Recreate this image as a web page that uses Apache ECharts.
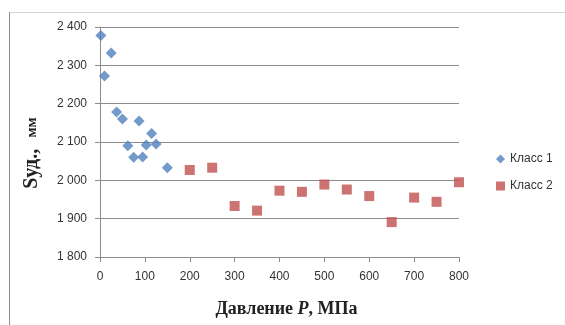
<!DOCTYPE html>
<html><head><meta charset="utf-8">
<script src="https://cdn.jsdelivr.net/npm/echarts@6/dist/echarts.min.js"></script>
<style>html,body{margin:0;padding:0;background:#fff}#c{width:565px;height:325px}</style>
</head><body><div id="c"></div>
<script>
const class1P = [2, 10, 25, 37, 50, 62, 75, 87, 95, 103, 115, 125, 150];
const class1S = [2378, 2272, 2332, 2178, 2160, 2090, 2060, 2155, 2061, 2092, 2122, 2095, 2033];
const class2P = [200, 250, 300, 350, 400, 450, 500, 550, 600, 650, 700, 750, 800];
const class2S = [2027, 2033, 1933, 1921, 1973, 1970, 1989, 1976, 1959, 1891, 1955, 1944, 1995];
const seriesNames = ['Класс 1', 'Класс 2'];
const xTicks = [0, 100, 200, 300, 400, 500, 600, 700, 800];
const yTicks = [1800, 1900, 2000, 2100, 2200, 2300, 2400];

const chart = echarts.init(document.getElementById('c'), null, {renderer: 'canvas'});
const fmt = v => { const s = String(v); return s.length > 3 ? s.slice(0, s.length - 3) + ' ' + s.slice(-3) : s; };
const serif = 'Liberation Serif, Times New Roman, serif';
const sans = 'Liberation Sans, Arial, sans-serif';
chart.setOption({
  animation: false,
  backgroundColor: '#fff',
  graphic: [
    {type: 'line', shape: {x1: 9.5, y1: 12, x2: 9.5, y2: 325}, style: {stroke: '#8c8c8c', lineWidth: 1}},
    {type: 'line', shape: {x1: 9.5, y1: 12.5, x2: 565, y2: 12.5}, style: {stroke: '#d4d4d4', lineWidth: 1}}
  ],
  grid: {left: 100, right: 106, top: 27, bottom: 68, containLabel: false},
  legend: {
    orient: 'vertical', left: 491, top: 147, itemGap: 13, itemWidth: 9, itemHeight: 9,
    textStyle: {fontFamily: sans, fontSize: 12, color: '#333', lineHeight: 14},
    data: [{name: seriesNames[0], icon: 'diamond'}, {name: seriesNames[1], icon: 'rect'}]
  },
  xAxis: {
    type: 'value', min: xTicks[0], max: xTicks[xTicks.length - 1], interval: 100,
    axisLine: {show: true, lineStyle: {color: '#8c8c8c'}},
    axisTick: {show: true, length: 5, lineStyle: {color: '#8c8c8c'}},
    splitLine: {show: false},
    axisLabel: {margin: 14, fontFamily: sans, fontSize: 12, color: '#333'},
    name: '{a|Давление }{b|P}{a|, МПа}', nameLocation: 'middle', nameGap: 43,
    nameTextStyle: {padding: [0, 0, 0, 14], rich: {
      a: {fontFamily: serif, fontWeight: 'bold', fontSize: 18, color: '#222'},
      b: {fontFamily: serif, fontWeight: 'bold', fontStyle: 'italic', fontSize: 18, color: '#222'}
    }}
  },
  yAxis: {
    type: 'value', min: yTicks[0], max: yTicks[yTicks.length - 1], interval: 100,
    axisLine: {show: true, lineStyle: {color: '#8c8c8c'}},
    axisTick: {show: true, length: 5, lineStyle: {color: '#8c8c8c'}},
    splitLine: {show: true, lineStyle: {color: '#8c8c8c'}},
    axisLabel: {margin: 13, formatter: fmt, fontFamily: sans, fontSize: 12, color: '#333'},
    name: '{a|Sуд.,}{c|   мм}', nameLocation: 'middle', nameGap: 58, nameRotate: 90,
    nameTextStyle: {padding: [0, 22, 0, 0], rich: {
      a: {fontFamily: serif, fontWeight: 'bold', fontSize: 20, color: '#222'},
      c: {fontFamily: serif, fontWeight: 'bold', fontSize: 15, color: '#222'}
    }}
  },
  series: [
    {name: seriesNames[0], type: 'scatter', symbol: 'diamond', symbolSize: 11,
     itemStyle: {color: '#4f81bd'}, data: class1P.map((p, i) => [p, class1S[i]])},
    {name: seriesNames[1], type: 'scatter', symbol: 'rect', symbolSize: 10,
     itemStyle: {color: '#c0504d'}, data: class2P.map((p, i) => [p, class2S[i]])}
  ]
});
</script></body></html>
